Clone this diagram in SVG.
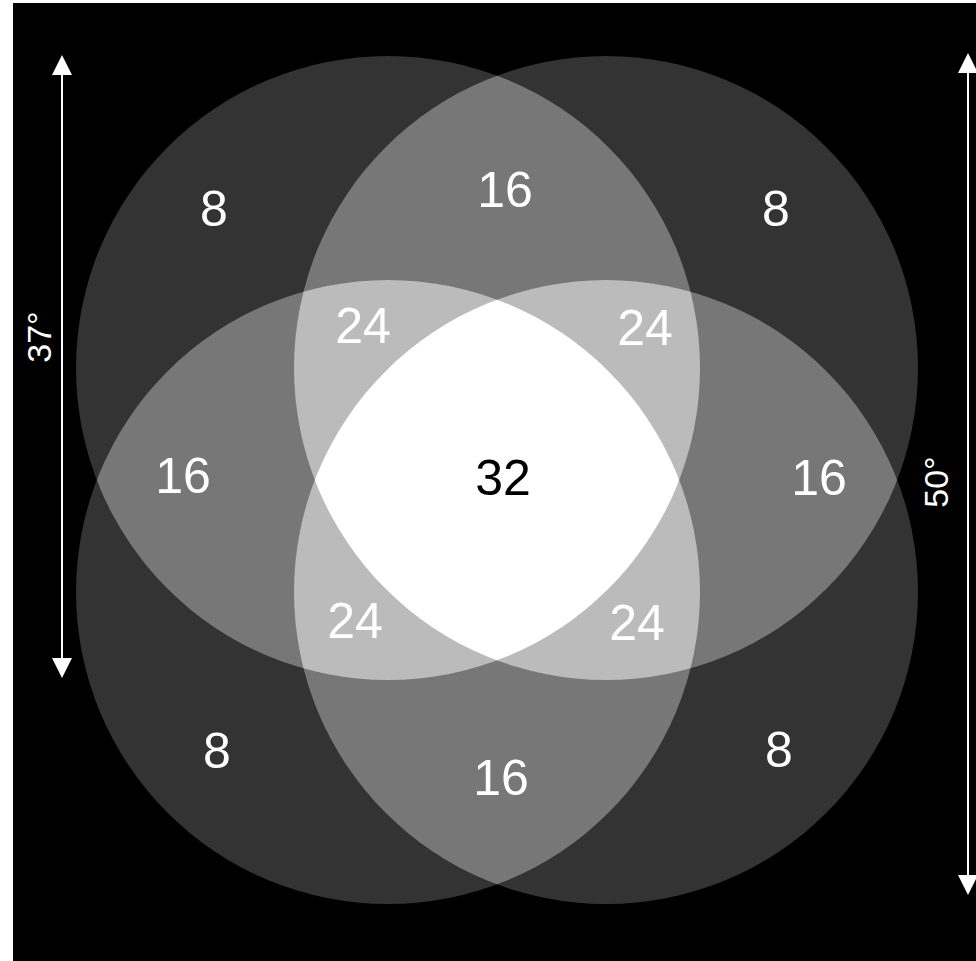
<svg xmlns="http://www.w3.org/2000/svg" width="976" height="961" viewBox="0 0 976 961">
<style>
.lbl{font-family:"Liberation Sans",Arial,sans-serif;font-size:50px;fill:#fff;text-anchor:middle}
.dark{fill:#000}
.ang{font-family:"Liberation Sans",Arial,sans-serif;font-size:34px;fill:#fff;text-anchor:middle}
.c1{fill:#333}.c2{fill:#777}.c3{fill:#bbb}.c4{fill:#fff}
.arr{stroke:#fff;stroke-width:2;fill:none}
</style>
<defs>
<circle id="UL" cx="388" cy="368" r="312"/>
<circle id="UR" cx="606" cy="368" r="312"/>
<circle id="LL" cx="388" cy="592" r="312"/>
<circle id="LR" cx="606" cy="592" r="312"/>
<clipPath id="kUL"><use href="#UL"/></clipPath>
<clipPath id="kUR"><use href="#UR"/></clipPath>
<clipPath id="kLL"><use href="#LL"/></clipPath>
<clipPath id="kLR"><use href="#LR"/></clipPath>
<marker id="ah" viewBox="0 0 20 20" refX="0" refY="10" markerWidth="20" markerHeight="20" markerUnits="userSpaceOnUse" orient="auto"><path d="M0,0 L20,10 L0,20 Z" fill="#fff"/></marker>
</defs>
<rect width="976" height="961" fill="#fff"/>
<rect x="13" y="3" width="963" height="958" fill="#000"/>
<g id="single" class="c1">
<use href="#UL"/><use href="#UR"/><use href="#LL"/><use href="#LR"/>
</g>
<g id="double" class="c2">
<g clip-path="url(#kUR)"><use href="#UL"/></g>
<g clip-path="url(#kLL)"><use href="#UL"/></g>
<g clip-path="url(#kLR)"><use href="#UL"/></g>
<g clip-path="url(#kLL)"><use href="#UR"/></g>
<g clip-path="url(#kLR)"><use href="#UR"/></g>
<g clip-path="url(#kLR)"><use href="#LL"/></g>
</g>
<g id="triple" class="c3">
<g clip-path="url(#kUR)"><g clip-path="url(#kLL)"><use href="#UL"/></g></g>
<g clip-path="url(#kUR)"><g clip-path="url(#kLR)"><use href="#UL"/></g></g>
<g clip-path="url(#kLL)"><g clip-path="url(#kLR)"><use href="#UL"/></g></g>
<g clip-path="url(#kLL)"><g clip-path="url(#kLR)"><use href="#UR"/></g></g>
</g>
<g id="quad" class="c4">
<g clip-path="url(#kUR)"><g clip-path="url(#kLL)"><g clip-path="url(#kLR)"><use href="#UL"/></g></g></g>
</g>
<g id="connectors">
<line class="arr" x1="62" y1="658" x2="62" y2="75" marker-end="url(#ah)"/>
<line class="arr" x1="62" y1="75" x2="62" y2="658" marker-end="url(#ah)"/>
<line class="arr" x1="968" y1="875" x2="968" y2="73" marker-end="url(#ah)"/>
<line class="arr" x1="968" y1="73" x2="968" y2="875" marker-end="url(#ah)"/>
</g>
<g id="labels">
<text class="lbl" x="214" y="226">8</text>
<text class="lbl" x="505" y="207">16</text>
<text class="lbl" x="776" y="226">8</text>
<text class="lbl" x="363" y="343">24</text>
<text class="lbl" x="645" y="345">24</text>
<text class="lbl" x="183" y="493">16</text>
<text class="lbl dark" x="503" y="495">32</text>
<text class="lbl" x="819" y="495">16</text>
<text class="lbl" x="355" y="638">24</text>
<text class="lbl" x="637" y="640">24</text>
<text class="lbl" x="217" y="768">8</text>
<text class="lbl" x="501" y="795">16</text>
<text class="lbl" x="779" y="767">8</text>
<text class="ang" transform="translate(51,337) rotate(-90)">37°</text>
<text class="ang" transform="translate(948,482) rotate(-90)">50°</text>
</g>
</svg>
